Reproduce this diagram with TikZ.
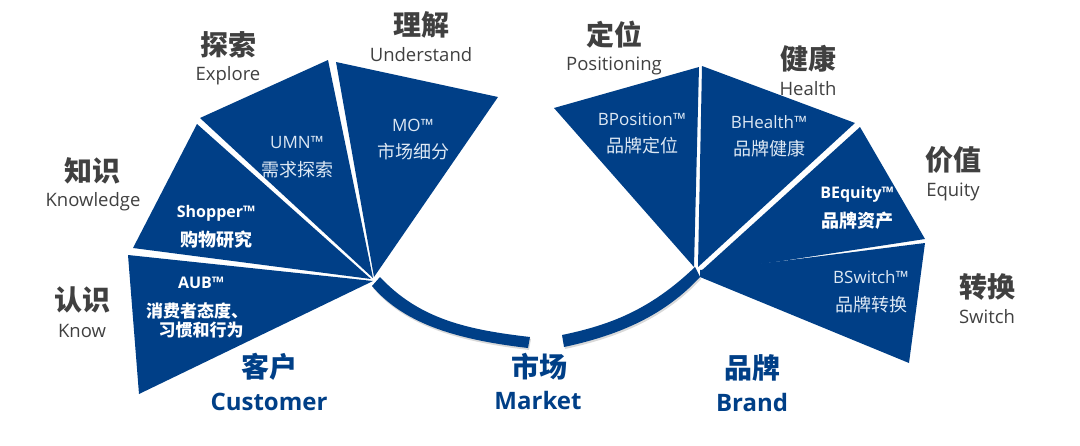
\documentclass[tikz,border=0pt]{standalone}
\usepackage{fontspec}
\setmainfont{Open Sans}
\newfontfamily\cjk{Noto Sans CJK SC}
\usetikzlibrary{shadows}
\definecolor{navy}{HTML}{003F87}
\definecolor{ink}{HTML}{404040}
\definecolor{pale}{HTML}{DDE8F4}
\tikzset{
  sector/.style={fill=navy,draw=none},
  head/.style={text=ink,font=\cjk\bfseries\fontsize{28}{28}\selectfont,inner sep=0pt},
  sub/.style={text=ink,font=\fontsize{18.5}{18.5}\selectfont,inner sep=0pt},
  brandcn/.style={text=navy,font=\cjk\bfseries\fontsize{28}{28}\selectfont,inner sep=0pt},
  branden/.style={text=navy,font=\bfseries\fontsize{24}{24}\selectfont,inner sep=0pt},
  inen/.style={text=pale,font=\fontsize{17}{17}\selectfont,inner sep=0pt},
  incn/.style={text=pale,font=\cjk\fontsize{18}{18}\selectfont,inner sep=0pt},
  inenb/.style={text=white,font=\bfseries\fontsize{16}{16}\selectfont,inner sep=0pt},
  incnb/.style={text=white,font=\cjk\bfseries\fontsize{18}{18}\selectfont,inner sep=0pt},
  incnc/.style={text=white,font=\cjk\bfseries\fontsize{17}{17}\selectfont,inner sep=0pt},
  band/.style={fill=navy,draw=none,drop shadow={opacity=0.3,shadow xshift=1pt,shadow yshift=-2pt}}
}
\begin{document}
\begin{tikzpicture}[x=1pt,y=-1pt]
  \useasboundingbox (0,0) rectangle (1080,445);
  % left fan
  \fill[sector] (128,255) -- (373,281) -- (139,394) -- cycle;
  \fill[sector] (133,248) -- (197,124) -- (371,279) -- cycle;
  \fill[sector] (200,118) -- (328,60) -- (373,278) -- cycle;
  \fill[sector] (336,62) -- (498,97) -- (374,277) -- cycle;
  % right fan
  \fill[sector] (554,108) -- (699,67) -- (694,267) -- cycle;
  \fill[sector] (702,66) -- (855,123) -- (698,267) -- cycle;
  \fill[sector] (860,127) -- (925,239) -- (782,261) -- (700,272) -- cycle;
  \fill[sector] (925,243) -- (909,363) -- (700,277) -- (700,270) -- (782,261) -- cycle;
  % bands
  \path[band] (380,277) .. controls (420,320) and (470,330) .. (530,337)
    -- (528,348) .. controls (460,340) and (405,325) .. (372,286) -- cycle;
  \path[band] (695,267) .. controls (650,310) and (610,325) .. (562,335)
    -- (564,347) .. controls (620,335) and (665,315) .. (700,277) -- cycle;
  % outer labels
  \draw
    (421,25) node[head] (understandcn){理解}
    (421,55) node[sub] (understanden){Understand}
    (228,45) node[head] (explorecn){探索}
    (228,76) node[sub] (exploreen){Explore}
    (92,171) node[head] (knowledgecn){知识}
    (93,202) node[sub] (knowledgeen){Knowledge}
    (82,300) node[head] (knowcn){认识}
    (82,331) node[sub] (knowen){Know}
    (614,35) node[head] (positioncn){定位}
    (614,66) node[sub] (positionen){Positioning}
    (808,59) node[head] (healthcn){健康}
    (808,89) node[sub] (healthen){Health}
    (953,160) node[head] (equitycn){价值}
    (953,192) node[sub] (equityen){Equity}
    (987,287) node[head] (switchcn){转换}
    (987,317) node[sub] (switchen){Switch};
  % group labels
  \draw
    (269,367) node[brandcn] (customercn){客户}
    (269,402) node[branden] (customeren){Customer}
    (539,367) node[brandcn] (marketcn){市场}
    (538,400) node[branden] (marketen){Market}
    (752,368) node[brandcn] (brandcn){品牌}
    (752,402) node[branden] (branden){Brand};
  % inner labels
  \draw
    (413,125) node[inen] (mo){MO™}
    (413,152) node[incn] (mocn){市场细分}
    (297,143) node[inen] (umn){UMN™}
    (297,170) node[incn] (umncn){需求探索}
    (216,213) node[inenb] (shopper){Shopper™}
    (216,240) node[incnb] (shoppercn){购物研究}
    (201,283) node[inenb] (aub){AUB™}
    (197,311) node[incnc] (aubcna){消费者态度、}
    (201,330) node[incnc] (aubcnb){习惯和行为}
    (642,119) node[inen] (bposition){BPosition™}
    (642,146) node[incn] (bpositioncn){品牌定位}
    (769,122) node[inen] (bhealth){BHealth™}
    (769,149) node[incn] (bhealthcn){品牌健康}
    (857,194) node[inenb] (bequity){BEquity™}
    (857,221) node[incnb] (bequitycn){品牌资产}
    (871,277) node[inen] (bswitch){BSwitch™}
    (871,305) node[incn] (bswitchcn){品牌转换};
\end{tikzpicture}
\end{document}
